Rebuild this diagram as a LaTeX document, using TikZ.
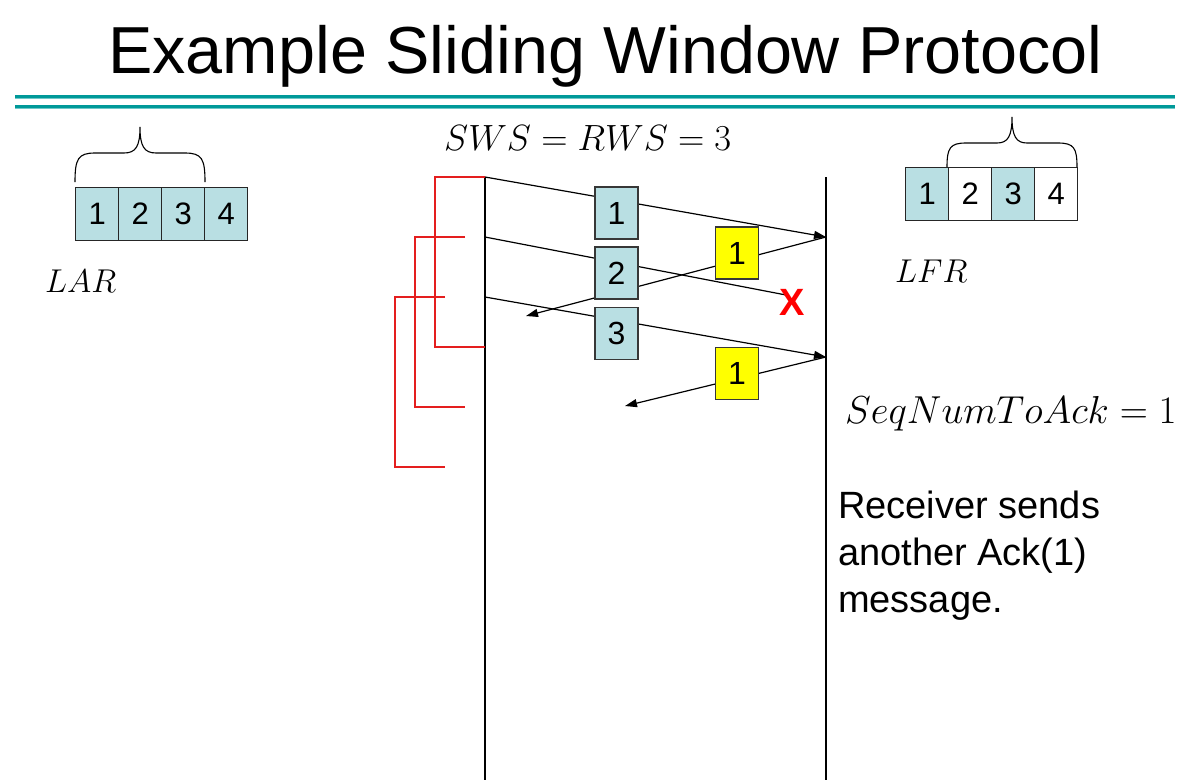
\documentclass[tikz,border=0pt]{standalone}
\usepackage{fix-cm}
\usepackage{fontspec}
\setmainfont{Liberation Sans}
\usetikzlibrary{arrows.meta}

\definecolor{winblue}{RGB}{185,223,227}
\definecolor{ackyellow}{RGB}{255,255,0}
\definecolor{rule}{RGB}{0,153,153}
\definecolor{rulelight}{RGB}{110,200,200}
\definecolor{timer}{RGB}{228,30,30}
\definecolor{boxedge}{RGB}{55,55,55}

\begin{document}
\begin{tikzpicture}[x=1pt,y=-1pt,
  cell/.style={draw=black!85, line width=1.3pt, minimum width=43pt, minimum height=53pt,
    inner sep=0pt, anchor=north west, font=\fontsize{31}{31}\selectfont},
  pkt/.style={draw=boxedge, line width=1.7pt, minimum width=43pt, minimum height=52pt,
    inner sep=0pt, font=\fontsize{32}{32}\selectfont},
  data/.style={pkt, fill=winblue},
  ack/.style={pkt, fill=ackyellow},
  msg/.style={line width=1.2pt, -{Triangle[length=12pt,width=8pt]}},
  lostmsg/.style={line width=1.2pt},
  timeline/.style={line width=1.2pt},
  timerline/.style={draw=timer, line width=1.1pt},
  brace/.style={line width=1.1pt},
  mathlbl/.style={anchor=base west, inner sep=0pt, font=\fontsize{36.5}{36.5}\selectfont},
]
\useasboundingbox (0,0) rectangle (1185,780);
\fill[white] (0,0) rectangle (1185,780);

% heading and double rule
\node[anchor=base, font=\fontsize{66.5}{70}\selectfont, inner sep=0pt] (title) at (605.5,73)
  {Example Sliding Window Protocol};
\draw[rule, line width=2.4pt] (15,96.5) -- (1175,96.5);
\draw[rulelight, line width=0.9pt] (15,98.6) -- (1175,98.6);
\draw[rule, line width=2.4pt] (15,106.5) -- (1175,106.5);
\draw[rulelight, line width=0.9pt] (15,108.6) -- (1175,108.6);

% sender window
\node[cell, fill=winblue] (sw1) at (75,187) {1};
\node[cell, fill=winblue] (sw2) at (118,187) {2};
\node[cell, fill=winblue] (sw3) at (161,187) {3};
\node[cell, fill=winblue] (sw4) at (204,187) {4};
\draw[brace] (75,182) .. controls (75,159) and (78,153) .. (95,153) -- (124,153)
  .. controls (136,153) and (140,146) .. (140,127)
  .. controls (140,146) and (144,153) .. (156,153) -- (185,153)
  .. controls (202,153) and (205,159) .. (205,182);
\node[mathlbl, font=\fontsize{33}{33}\selectfont] (lar) at (45,292) {$LAR$};

% receiver window
\node[cell, fill=winblue] (rw1) at (905,167) {1};
\node[cell, fill=white] (rw2) at (948,167) {2};
\node[cell, fill=winblue] (rw3) at (991,167) {3};
\node[cell, fill=white] (rw4) at (1034,167) {4};
\draw[brace] (947,167) .. controls (947,148) and (950,143) .. (966,143) -- (997,143)
  .. controls (1008,143) and (1012,136) .. (1012,117)
  .. controls (1012,136) and (1016,143) .. (1027,143) -- (1058,143)
  .. controls (1074,143) and (1077,148) .. (1077,167);
\node[mathlbl, font=\fontsize{33}{33}\selectfont] (lfr) at (895,282) {$LFR$};

% window sizes
\node[mathlbl] (sizes) at (444,150) {$SWS = RWS = 3$};

% time lines
\coordinate (stop) at (485,177);
\coordinate (sbot) at (485,780);
\coordinate (rtop) at (826,177);
\coordinate (rbot) at (826,780);
\draw[timeline] (stop) -- (sbot);
\draw[timeline] (rtop) -- (rbot);

% retransmission timers
\draw[timerline] (485,177) -- (435,177) -- (435,347) -- (485,347);
\draw[timerline] (465,237) -- (415,237) -- (415,407) -- (465,407);
\draw[timerline] (445,297) -- (395,297) -- (395,467) -- (445,467);

% message end points
\coordinate (s1) at (485,177);
\coordinate (s2) at (485,237);
\coordinate (s3) at (485,297);
\coordinate (r1) at (826,237);
\coordinate (r3) at (826,357);
\coordinate (lost) at (786,295);
\coordinate (a1) at (526,316);
\coordinate (a2) at (625,406);

% frames and acknowledgements
\draw[msg] (s1) -- (r1);
\draw[lostmsg] (s2) -- (lost);
\draw[msg] (s3) -- (r3);
\draw[msg] (r1) -- (a1);
\draw[msg] (r3) -- (a2);

\node[data] (f1) at (616.5,213) {1};
\node[data] (f2) at (616.5,273) {2};
\node[data] (f3) at (616.5,333.5) {3};
\node[ack] (k1) at (737,253) {1};
\node[ack] (k2) at (737,373.5) {1};
\node[text=red, font=\bfseries\fontsize{38}{38}\selectfont, inner sep=0pt] (drop) at (792,302) {X};

% receiver state
\node[mathlbl, font=\fontsize{39}{39}\selectfont] (seq) at (845,423) {$SeqNumToAck = 1$};
\node[anchor=base west, align=left, inner sep=0pt, font=\fontsize{38}{47}\selectfont] (note)
  at (838,612) {Receiver sends\\another Ack(1)\\message.};
\end{tikzpicture}
\end{document}
